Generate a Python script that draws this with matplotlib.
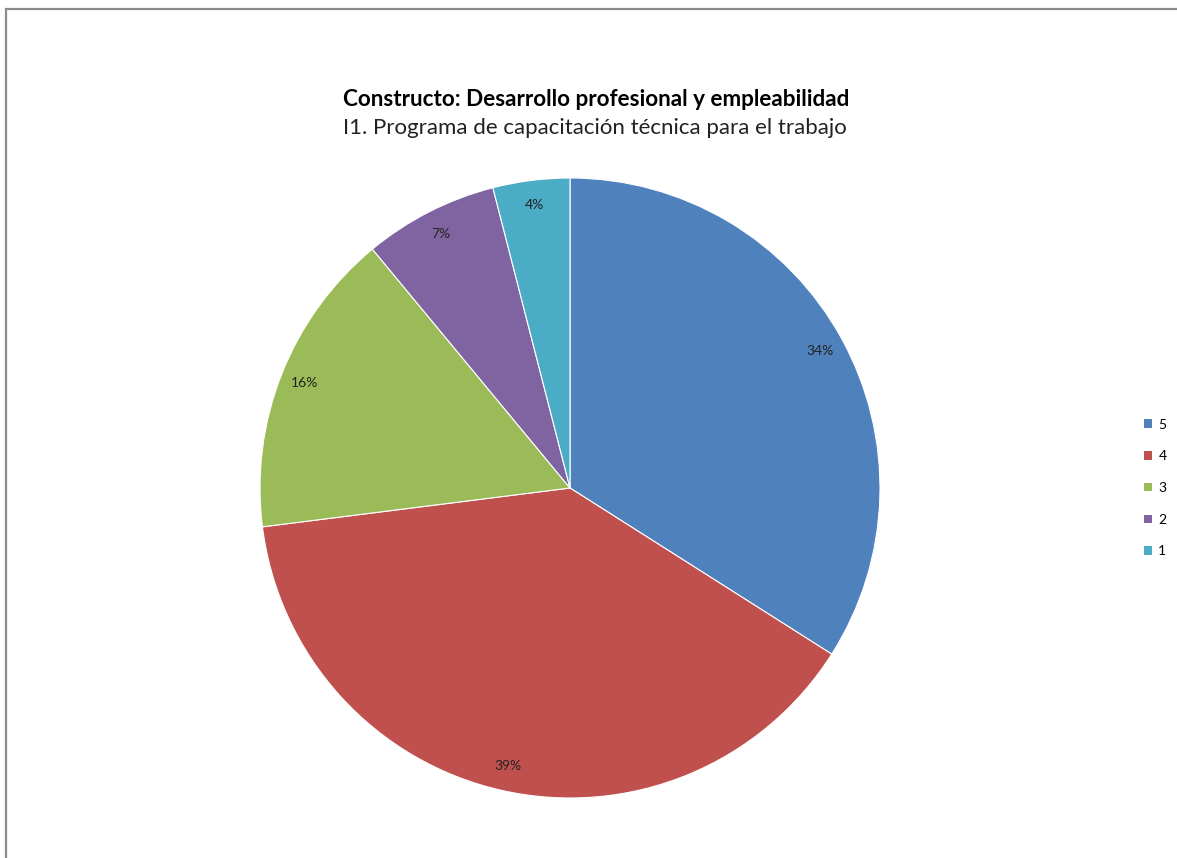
import matplotlib
matplotlib.use("Agg")
import matplotlib.pyplot as plt
from matplotlib.patches import Rectangle, Patch

plt.rcParams['font.family'] = ['Lato', 'DejaVu Sans']

categories = ["5", "4", "3", "2", "1"]
percentages = [34, 39, 16, 7, 4]
colors = ["#4F81BD", "#C0504D", "#9BBB59", "#8064A2", "#4BACC6"]
title = "Constructo: Desarrollo profesional y empleabilidad"
subtitle = "I1. Programa de capacitación técnica para el trabajo"

W, H = 1177, 858
fig = plt.figure(figsize=(W / 100, H / 100), dpi=100)
ax = fig.add_axes([0, 0, 1, 1])

# chart frame
fig.patches.append(Rectangle((5.5 / W, -0.1), 1.2, (H - 9.5) / H + 0.1,
                             transform=fig.transFigure, fill=False,
                             edgecolor="#8c8c8c", linewidth=1.6))

wedges, texts = ax.pie(percentages, colors=colors,
                       labels=[f"{p}%" for p in percentages],
                       labeldistance=0.92, startangle=90, counterclock=False,
                       center=(570, H - 488), radius=310,
                       wedgeprops=dict(edgecolor="white", linewidth=0.8),
                       textprops=dict(fontsize=10, color="#222222"))
for t in texts:
    t.set_ha("center")
    t.set_va("center")

ax.set_xlim(0, W)
ax.set_ylim(0, H)
ax.set_aspect("equal")
ax.axis("off")

ax.text(596, H - 100, title, ha="center", va="center",
        fontsize=16.2, fontweight="bold", color="black")
ax.text(595, H - 128, subtitle, ha="center", va="center",
        fontsize=16, color="#222222")

handles = [Patch(facecolor=c, edgecolor="none") for c in colors]
ax.legend(handles, categories, loc="center left",
          bbox_to_anchor=(1144 / W, (H - 488) / H), frameon=False,
          fontsize=10, handlelength=0.58, handleheight=0.58,
          handletextpad=0.45, labelspacing=1.42, borderpad=0,
          borderaxespad=0)

fig.savefig("out.png", dpi=100)
